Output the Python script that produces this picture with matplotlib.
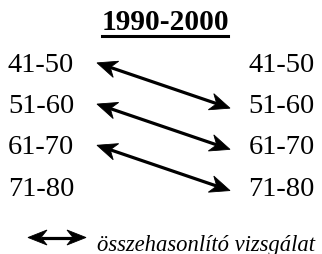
import matplotlib
matplotlib.use("Agg")
import matplotlib.pyplot as plt
import numpy as np
from matplotlib.patches import Polygon
from matplotlib.transforms import IdentityTransform

title = "1990-2000"
groups = ["41-50", "51-60", "61-70", "71-80"]
pairs = [(0, 1), (1, 2), (2, 3)]
legend_label = "összehasonlító vizsgálat"

W, H = 322, 255
Y0, DY = 65.5, 41.2
def row(px):
    return (px - Y0) / DY

fig = plt.figure(figsize=(W / 100, H / 100), dpi=100)
ax = fig.add_axes([0, 0, 1, 1])
ax.set_xlim(0, W)
ax.set_ylim(row(H), row(0))
ax.axis("off")

serif = ["Liberation Serif", "DejaVu Serif"]
for i, g in enumerate(groups):
    ax.text(8, i, g, ha="left", va="center", fontsize=20.5, family=serif)
    ax.text(315, i, g, ha="right", va="center", fontsize=20.5, family=serif)

ax.text(165, row(22), title, ha="center", va="center", fontsize=21.2,
        fontweight="bold", family=serif)
ax.plot([102, 228], [row(36.5)] * 2, color="black", lw=2.2)


def double_arrow(p0, p1, L=20, hw=8.5, notch=6, lw=2.3):
    a = ax.transData.transform(p0)
    b = ax.transData.transform(p1)
    d = (b - a) / np.linalg.norm(b - a)
    n = np.array([-d[1], d[0]])
    s0 = a + d * (L - notch)
    s1 = b - d * (L - notch)
    ax.add_line(plt.Line2D([s0[0], s1[0]], [s0[1], s1[1]], color="black",
                           lw=lw, transform=IdentityTransform(),
                           solid_capstyle="butt"))
    for tip, dd in ((a, d), (b, -d)):
        pts = [tip, tip + dd * L + n * hw, tip + dd * (L - notch),
               tip + dd * L - n * hw]
        ax.add_patch(Polygon(pts, closed=True, facecolor="black",
                             edgecolor="black", lw=0.6,
                             transform=IdentityTransform()))


for a, b in pairs:
    double_arrow((97, a - 0.04), (230, b + 0.06))

ly = row(238.5)
double_arrow((28, ly), (86, ly), L=19, hw=7.5, notch=6)
ax.text(97, row(246), legend_label, ha="left", va="center", fontsize=16.3,
        style="italic", family=serif)

fig.savefig("out.png", dpi=100)
